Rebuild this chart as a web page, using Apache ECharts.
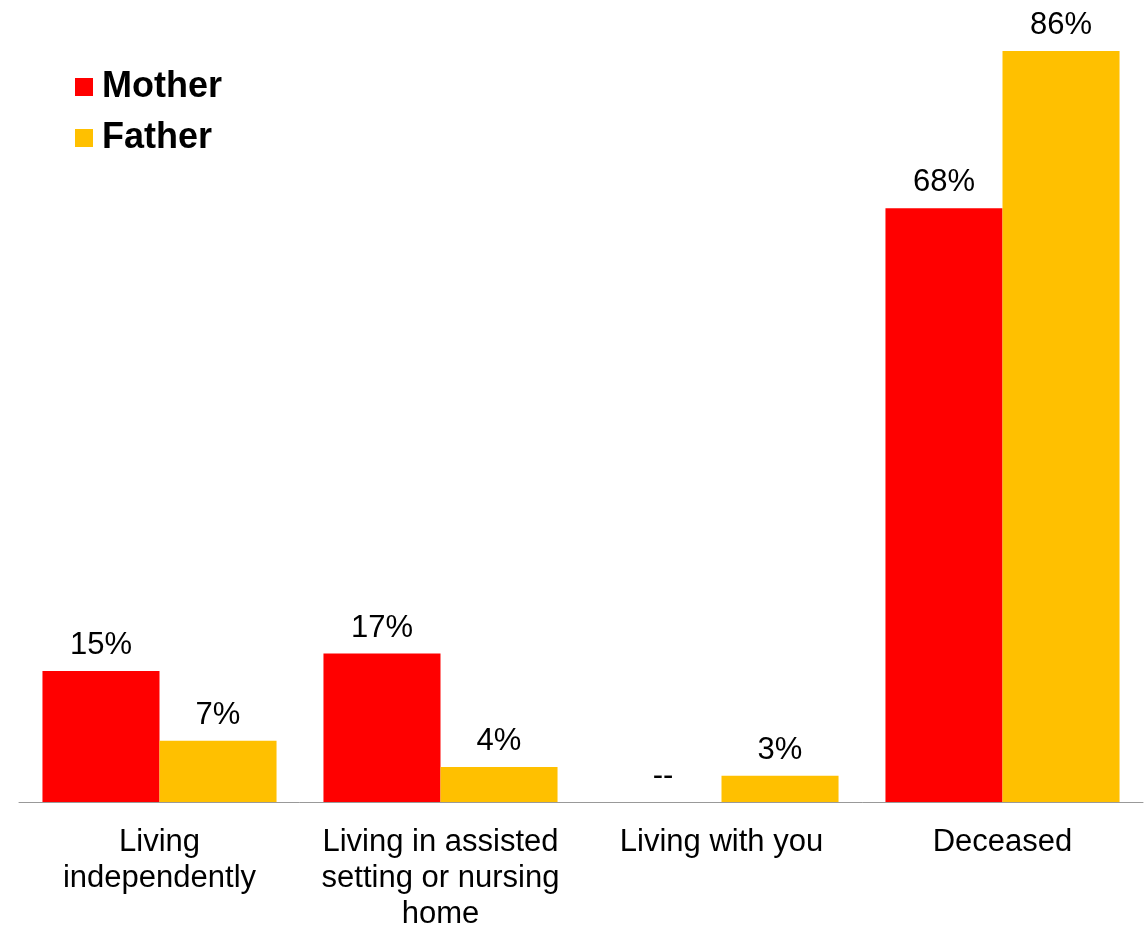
<!DOCTYPE html>
<html>
<head>
<meta charset="utf-8">
<script src="https://cdn.jsdelivr.net/npm/echarts@6/dist/echarts.min.js"></script>
<style>
  html, body { margin: 0; padding: 0; background: #fff; }
  #chart { width: 1145px; height: 930px; }
</style>
</head>
<body>
<div id="chart"></div>
<script>
const categories = [
  'Living\nindependently',
  'Living in assisted\nsetting or nursing\nhome',
  'Living with you',
  'Deceased'
]
const motherValues = [15, 17, null, 68]
const fatherValues = [7, 4, 3, 86]

const chart = echarts.init(document.getElementById('chart'))

const labelStyle = {
  show: true,
  position: 'top',
  distance: 10,
  color: '#000',
  fontSize: 31,
  fontFamily: 'Liberation Sans, Arial, sans-serif'
}

chart.setOption({
  animation: false,
  legend: {
    orient: 'vertical',
    left: 75,
    top: 69,
    padding: 0,
    itemWidth: 18,
    itemHeight: 18,
    itemGap: 15,
    icon: 'rect',
    textStyle: {
      fontSize: 36,
      fontWeight: 'bold',
      color: '#000',
      fontFamily: 'Liberation Sans, Arial, sans-serif',
      padding: [0, 0, 0, 4]
    },
    data: ['Mother', 'Father']
  },
  grid: {
    left: 19, right: 2, top: 16, bottom: 128,
    containLabel: false,
    outerBoundsMode: 'none'
  },
  xAxis: {
    type: 'category',
    data: categories,
    axisLine: { lineStyle: { color: '#999', width: 1 } },
    axisTick: { show: false },
    axisLabel: {
      color: '#000',
      fontSize: 31,
      lineHeight: 36,
      margin: 22,
      interval: 0,
      fontFamily: 'Liberation Sans, Arial, sans-serif'
    }
  },
  yAxis: {
    type: 'value',
    min: 0,
    max: 90,
    show: false,
    splitLine: { show: false }
  },
  series: [
    {
      name: 'Mother',
      type: 'bar',
      data: motherValues.map(v => (v === null ? 0 : v)),
      barGap: '0%',
      barCategoryGap: '16.7%',
      itemStyle: { color: '#FF0000' },
      label: {
        ...labelStyle,
        formatter: (p) => (motherValues[p.dataIndex] === null ? '--' : p.value + '%')
      }
    },
    {
      name: 'Father',
      type: 'bar',
      data: fatherValues,
      barGap: '0%',
      barCategoryGap: '16.7%',
      itemStyle: { color: '#FFC000' },
      label: { ...labelStyle, formatter: '{c}%' }
    }
  ]
})
</script>
</body>
</html>
